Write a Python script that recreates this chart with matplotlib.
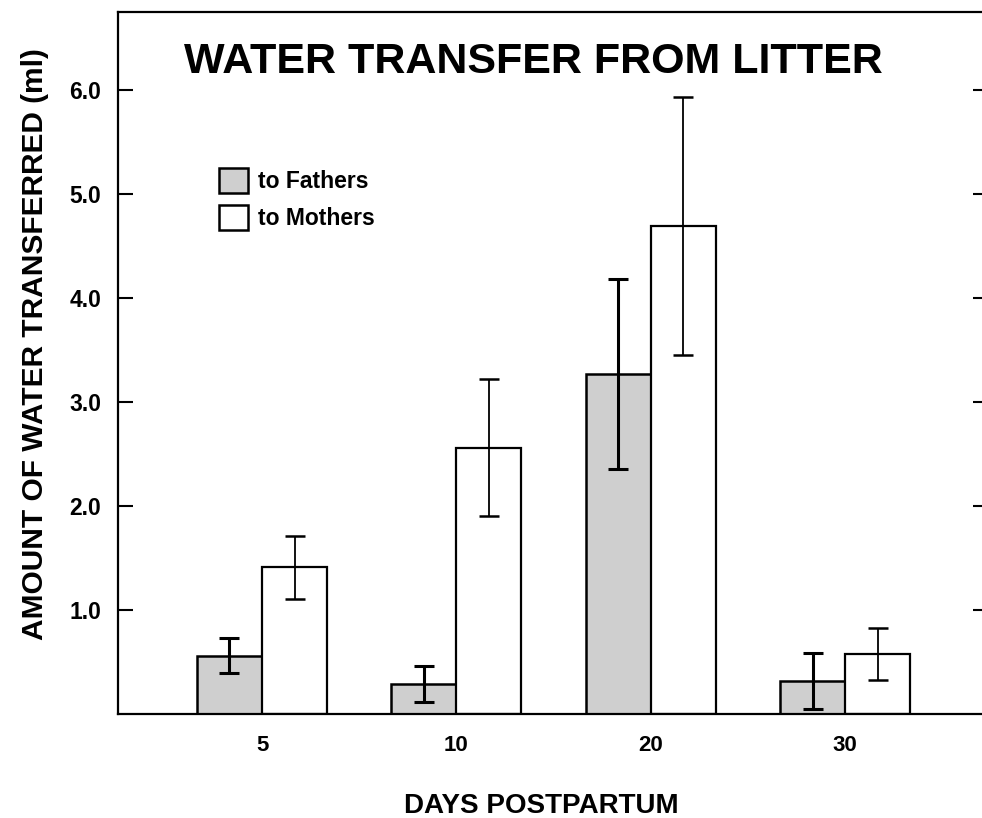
import numpy as np
import matplotlib
matplotlib.use("Agg")
import matplotlib.pyplot as plt
from matplotlib.patches import Patch

plt.rcParams['font.family'] = ['Liberation Sans', 'DejaVu Sans']

days = ['5', '10', '20', '30']
fathers = [0.56, 0.29, 3.27, 0.32]
fathers_err = [0.17, 0.17, 0.91, 0.27]
mothers = [1.41, 2.56, 4.69, 0.58]
mothers_err = [0.30, 0.66, 1.24, 0.25]
yticks = [1.0, 2.0, 3.0, 4.0, 5.0, 6.0]

fig = plt.figure(figsize=(9.82, 8.18), dpi=100)
ax = fig.add_axes([0.1202, 0.1271, 0.886, 0.858])

x = np.arange(len(days))
w = 0.335
ax.bar(x - w / 2, fathers, w, color='#cfcfcf', edgecolor='black', linewidth=1.8, zorder=2)
ax.bar(x + w / 2, mothers, w, color='white', edgecolor='black', linewidth=1.6, zorder=2)
ax.errorbar(x - w / 2, fathers, yerr=fathers_err, fmt='none', ecolor='black',
            elinewidth=2.2, capsize=7, capthick=2.2, zorder=3)
ax.errorbar(x + w / 2, mothers, yerr=mothers_err, fmt='none', ecolor='black',
            elinewidth=1.3, capsize=7, capthick=1.8, zorder=3)

ax.set_xlim(-0.741, 3.736)
ax.set_ylim(0, 6.75)
ax.set_xticks(x)
ax.set_xticklabels(days, fontsize=16, fontweight='bold')
ax.tick_params(axis='x', length=0, pad=15)
ax.set_yticks(yticks)
ax.set_yticklabels(['%.1f' % v for v in yticks], fontsize=16.5, fontweight='bold')
ax.tick_params(axis='y', direction='in', length=11, width=1.5, right=True, pad=12)
for s in ax.spines.values():
    s.set_linewidth(1.6)

# axis labels placed in figure coords to match the original layout
fig.text(35 / 982, 1 - 344 / 818, 'AMOUNT OF WATER TRANSFERRED (ml)', fontsize=21.5,
         fontweight='bold', rotation=90, ha='center', va='center')
fig.text(541 / 982, 1 - 793 / 818, 'DAYS POSTPARTUM', fontsize=20, fontweight='bold',
         ha='center', va='top')
ax.text(1.395, 6.27, 'WATER TRANSFER FROM LITTER', fontsize=31, fontweight='bold',
        ha='center', va='center')

handles = [Patch(facecolor='#cfcfcf', edgecolor='black', linewidth=1.8, label='to Fathers'),
           Patch(facecolor='white', edgecolor='black', linewidth=1.8, label='to Mothers')]
leg = ax.legend(handles=handles, loc='upper left', bbox_to_anchor=(0.116, 0.778),
                frameon=False, handlelength=1.25, handleheight=1.3, handletextpad=0.45,
                labelspacing=0.5, borderpad=0, borderaxespad=0,
                prop={'size': 16.5, 'weight': 'bold'})

fig.savefig('out.png', dpi=100)
